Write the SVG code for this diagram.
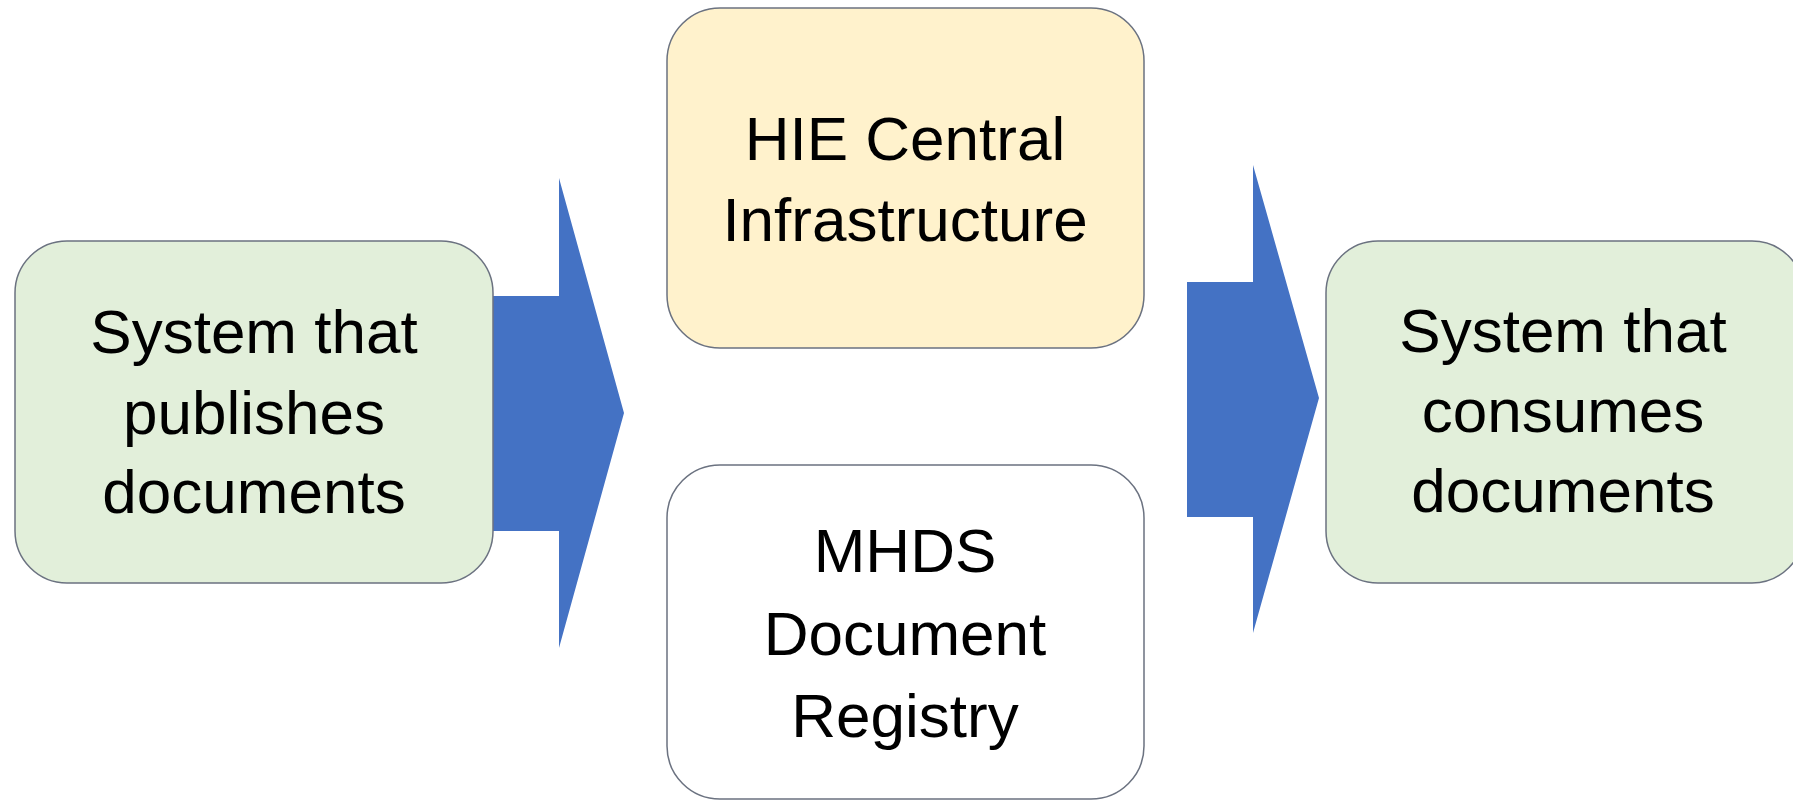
<svg xmlns="http://www.w3.org/2000/svg" width="1793" height="807" viewBox="0 0 1793 807">
  <style>
    .box { stroke: #6b7280; stroke-width: 1.5; }
    .green { fill: #E2EFDA; }
    .yellow { fill: #FFF2CC; }
    .white { fill: #FFFFFF; }
    .arrow { fill: #4472C4; stroke: none; }
    .lbl { font-family: "Liberation Sans", Arial, sans-serif; font-size: 62px; fill: #000; text-anchor: middle; }
  </style>
  <rect width="1793" height="807" fill="#FFFFFF"/>
  <g id="connectors">
    <path class="arrow" d="M492,296 L559,296 L559,178 L624,413 L559,648 L559,531 L492,531 Z"/>
    <path class="arrow" d="M1187,282 L1253,282 L1253,165 L1319,398 L1253,633 L1253,517 L1187,517 Z"/>
  </g>
  <g id="publisher">
    <rect class="box green" x="15" y="241" width="478" height="342" rx="52" ry="52"/>
    <text class="lbl" x="254" y="353">System that</text>
    <text class="lbl" x="254" y="434">publishes</text>
    <text class="lbl" x="254" y="513">documents</text>
  </g>
  <g id="hie">
    <rect class="box yellow" x="667" y="8" width="477" height="340" rx="53" ry="53"/>
    <text class="lbl" x="905" y="160">HIE Central</text>
    <text class="lbl" x="905" y="241">Infrastructure</text>
  </g>
  <g id="mhds">
    <rect class="box white" x="667" y="465" width="477" height="334" rx="53" ry="53"/>
    <text class="lbl" x="905" y="572">MHDS</text>
    <text class="lbl" x="905" y="655">Document</text>
    <text class="lbl" x="905" y="737">Registry</text>
  </g>
  <g id="consumer">
    <rect class="box green" x="1326" y="241" width="478" height="342" rx="52" ry="52"/>
    <text class="lbl" x="1563" y="352">System that</text>
    <text class="lbl" x="1563" y="432">consumes</text>
    <text class="lbl" x="1563" y="512">documents</text>
  </g>
</svg>
